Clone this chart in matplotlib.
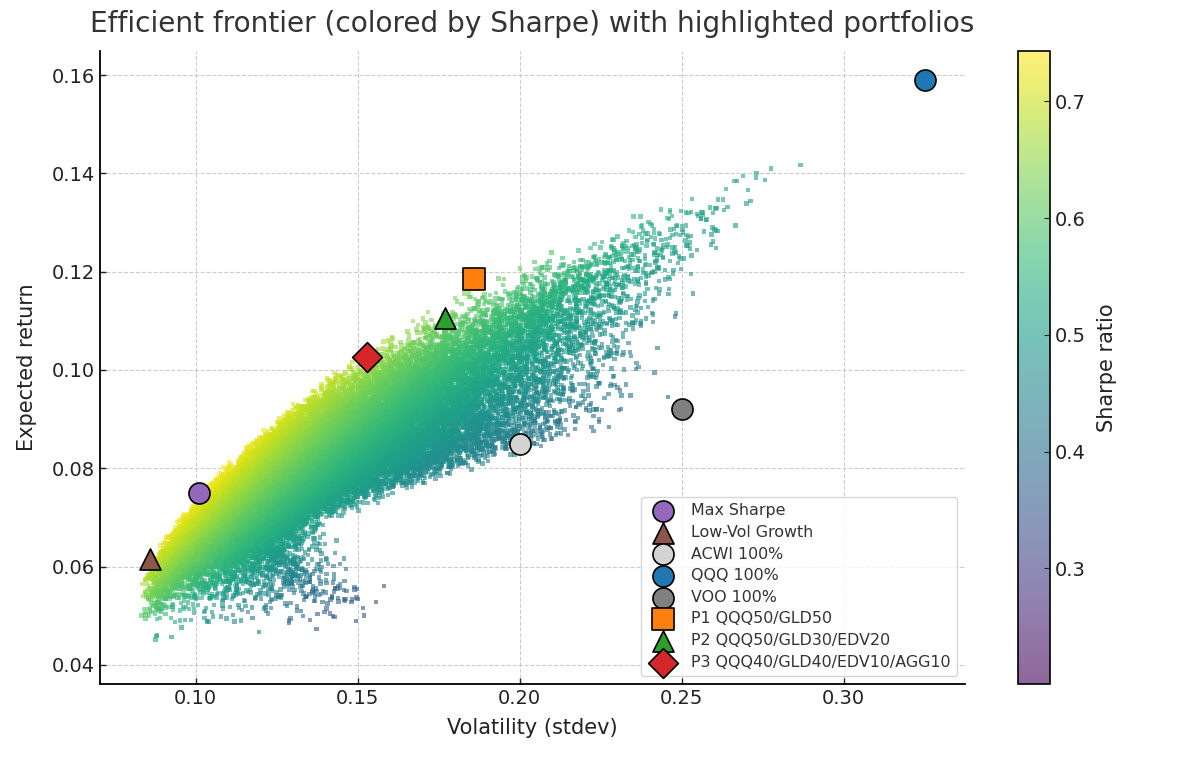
import numpy as np
import matplotlib
matplotlib.use("Agg")
import matplotlib.pyplot as plt
from matplotlib.ticker import FormatStrFormatter

# asset assumptions behind the portfolio cloud
asset_names = ["QQQ", "VOO", "ACWI", "GLD", "EDV", "AGG"]
asset_mu = np.array([0.152, 0.092, 0.085, 0.078, 0.045, 0.042])
asset_vol = np.array([0.305, 0.250, 0.200, 0.150, 0.180, 0.090])
asset_corr = np.array([
    [1.00, 0.90, 0.88, 0.10, -0.10, 0.10],
    [0.90, 1.00, 0.95, 0.10, -0.10, 0.10],
    [0.88, 0.95, 1.00, 0.10, -0.10, 0.10],
    [0.10, 0.10, 0.10, 1.00, 0.30, 0.30],
    [-0.10, -0.10, -0.10, 0.30, 1.00, 0.60],
    [0.10, 0.10, 0.10, 0.30, 0.60, 1.00],
])
n_portfolios = 30000

# highlighted portfolios
hl_labels = ["Max Sharpe", "Low-Vol Growth", "ACWI 100%", "QQQ 100%", "VOO 100%",
             "P1 QQQ50/GLD50", "P2 QQQ50/GLD30/EDV20", "P3 QQQ40/GLD40/EDV10/AGG10"]
hl_vol = [0.101, 0.086, 0.200, 0.325, 0.250, 0.186, 0.177, 0.153]
hl_ret = [0.075, 0.0615, 0.085, 0.159, 0.092, 0.1186, 0.1105, 0.1027]
hl_colors = ["#9467bd", "#8c564b", "#d3d3d3", "#1f77b4", "#808080",
             "#ff7f0e", "#2ca02c", "#d62728"]
hl_markers = ["o", "^", "o", "o", "o", "s", "^", "D"]

sharpe_min, sharpe_max = 0.201, 0.743


def halton(n, bases, skip=200):
    # deterministic low-discrepancy points in the unit cube
    idx = np.arange(skip + 1, skip + n + 1)
    out = np.zeros((n, len(bases)))
    for j, b in enumerate(bases):
        f = 1.0
        i = idx.copy()
        while np.any(i > 0):
            f = f / b
            out[:, j] += f * (i % b)
            i = i // b
    return out


# weights spread evenly over the simplex
u = halton(n_portfolios, [2, 3, 5, 7, 11, 13])
weights = -np.log(u)
weights = weights / weights.sum(axis=1, keepdims=True)

cov = asset_corr * np.outer(asset_vol, asset_vol)
port_ret = weights @ asset_mu
port_vol = np.sqrt(np.einsum("ij,jk,ik->i", weights, cov, weights))
port_sharpe = port_ret / port_vol

plt.rcParams["font.family"] = "DejaVu Sans"
plt.rcParams["xtick.direction"] = "in"
plt.rcParams["ytick.direction"] = "in"

fig = plt.figure(figsize=(12, 7.58), dpi=100)
ax = fig.add_axes([0.0833, 0.0976, 0.7209, 0.8351])
cax = fig.add_axes([0.848, 0.0976, 0.027, 0.8351])

sc = ax.scatter(port_vol, port_ret, c=port_sharpe, cmap="viridis", s=10, marker="s",
                linewidths=0, alpha=0.6, vmin=sharpe_min, vmax=sharpe_max, zorder=2)

for v, r, col, m, lab in zip(hl_vol, hl_ret, hl_colors, hl_markers, hl_labels):
    ax.scatter(v, r, s=230, c=col, marker=m, edgecolors="black", linewidths=1.2,
               label=lab, zorder=5)

ax.set_xlim(0.0705, 0.3375)
ax.set_ylim(0.0361, 0.1649)
ax.set_xticks([0.10, 0.15, 0.20, 0.25, 0.30])
ax.set_yticks([0.04, 0.06, 0.08, 0.10, 0.12, 0.14, 0.16])
ax.xaxis.set_major_formatter(FormatStrFormatter("%.2f"))
ax.yaxis.set_major_formatter(FormatStrFormatter("%.2f"))
ax.tick_params(labelsize=14, length=4, width=1, colors="#222222")
ax.grid(True, linestyle="--", color="#cccccc", linewidth=0.8, zorder=0)
ax.set_axisbelow(True)
for side in ["top", "right"]:
    ax.spines[side].set_visible(False)
for side in ["left", "bottom"]:
    ax.spines[side].set_linewidth(1.3)

ax.set_xlabel("Volatility (stdev)", fontsize=15, labelpad=7, color="#222222")
ax.set_ylabel("Expected return", fontsize=15, labelpad=11, color="#222222")
ax.set_title("Efficient frontier (colored by Sharpe) with highlighted portfolios",
             fontsize=20.2, color="#333333", pad=14)

ax.legend(loc="lower right", fontsize=11.4, framealpha=0.8, edgecolor="#cccccc",
          handletextpad=0.8, labelspacing=0.42, labelcolor="#333333")

cbar = fig.colorbar(sc, cax=cax)
cbar.set_label("Sharpe ratio", fontsize=15, labelpad=8, color="#222222")
cbar.ax.tick_params(labelsize=14, direction="in", length=4, colors="#222222")
cbar.set_ticks([0.3, 0.4, 0.5, 0.6, 0.7])
cbar.outline.set_linewidth(1.2)

fig.savefig("out.png", dpi=100)
